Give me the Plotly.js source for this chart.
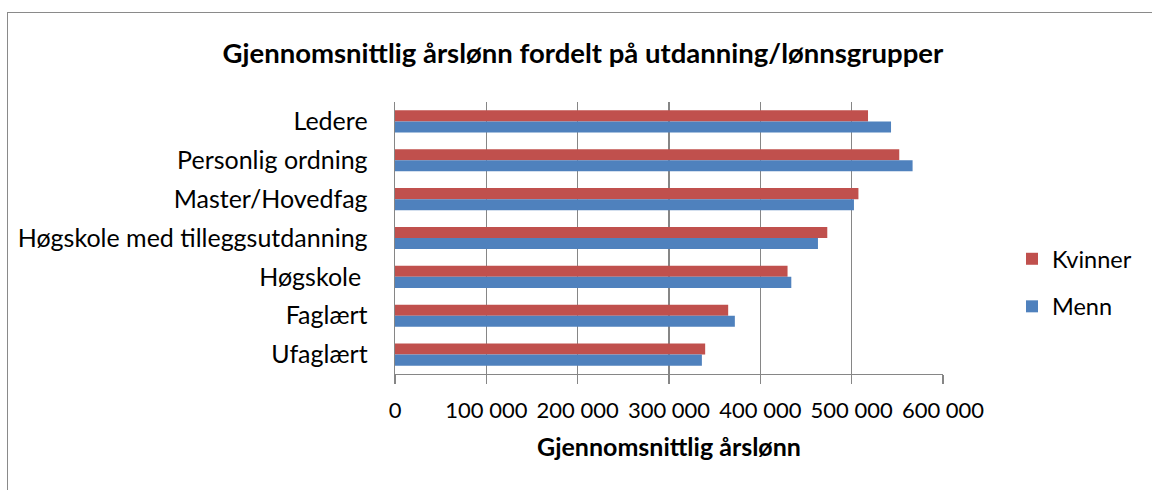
<!DOCTYPE html>
<html>
<head>
<meta charset="utf-8">
<script src="https://cdn.plot.ly/plotly-3.0.1.min.js"></script>
<style>
  body { margin: 0; background: #fff; }
  #frame {
    position: absolute; left: 7px; top: 12px;
    width: 1300px; height: 600px;
    border: 1px solid #8a8a8a;
  }
  #chart { position: absolute; left: 0; top: 0; width: 1152px; height: 490px; }
</style>
</head>
<body>
<div id="frame"></div>
<div id="chart"></div>
<script>
const categories = [
  'Ledere',
  'Personlig ordning',
  'Master/Hovedfag',
  'Høgskole med tilleggsutdanning',
  'Høgskole\u00a0',
  'Faglært',
  'Ufaglært',
];
const kvinner = [517900, 552100, 507400, 473300, 429800, 364800, 339600];
const menn = [543100, 566700, 502500, 463100, 433900, 372100, 336000];

const FONT = 'Lato, "Open Sans", sans-serif';
const GRID = '#868686';

const traces = [
  {
    name: 'Kvinner',
    type: 'bar',
    orientation: 'h',
    x: kvinner,
    y: categories,
    legendgroup: 'k',
    marker: { color: '#C0504D' },
    hoverinfo: 'x+y',
  },
  {
    name: 'Menn',
    type: 'bar',
    orientation: 'h',
    x: menn,
    y: categories,
    legendgroup: 'm',
    marker: { color: '#4F81BD' },
    hoverinfo: 'x+y',
  },
];

const layout = {
  width: 1152,
  height: 490,
  margin: { l: 395, r: 209, t: 102, b: 116 },
  paper_bgcolor: 'rgba(0,0,0,0)',
  plot_bgcolor: 'rgba(0,0,0,0)',
  font: { family: FONT, size: 22, color: '#000' },
  separators: ', ',
  barmode: 'group',
  bargap: 0.43,
  bargroupgap: 0,
  title: {
    text: '<b>Gjennomsnittlig årslønn fordelt på utdanning/lønnsgrupper</b>',
    font: { family: FONT, size: 27.5, color: '#000' },
    x: 0.506,
    xref: 'container',
    xanchor: 'center',
    y: 1 - 53 / 490,
    yref: 'container',
    yanchor: 'middle',
  },
  xaxis: {
    range: [0, 600000],
    dtick: 100000,
    tickformat: ',.0f',
    showgrid: true,
    gridcolor: GRID,
    gridwidth: 1.4,
    zeroline: false,
    showline: true,
    linecolor: GRID,
    linewidth: 1.4,
    ticks: 'outside',
    ticklen: 9,
    tickcolor: GRID,
    tickwidth: 1.4,
    ticklabelstandoff: 7,
    tickfont: { family: FONT, size: 22, color: '#000' },
    title: {
      text: '<b>Gjennomsnittlig årslønn</b>',
      font: { family: FONT, size: 25, color: '#000' },
      standoff: 16,
    },
    fixedrange: true,
  },
  yaxis: {
    autorange: 'reversed',
    showgrid: false,
    zeroline: false,
    showline: true,
    linecolor: GRID,
    linewidth: 1.4,
    ticks: '',
    ticklabelstandoff: 21,
    tickfont: { family: FONT, size: 25, color: '#000' },
    fixedrange: true,
  },
  showlegend: true,
  legend: {
    x: 1012 / 1152,
    xref: 'container',
    y: 1 - 237 / 490,
    yref: 'container',
    xanchor: 'left',
    yanchor: 'top',
    traceorder: 'grouped',
    tracegroupgap: 14,
    font: { family: FONT, size: 23.5, color: '#000' },
    bgcolor: 'rgba(0,0,0,0)',
  },
};

Plotly.newPlot('chart', traces, layout, { displayModeBar: false, staticPlot: true });
</script>
</body>
</html>
